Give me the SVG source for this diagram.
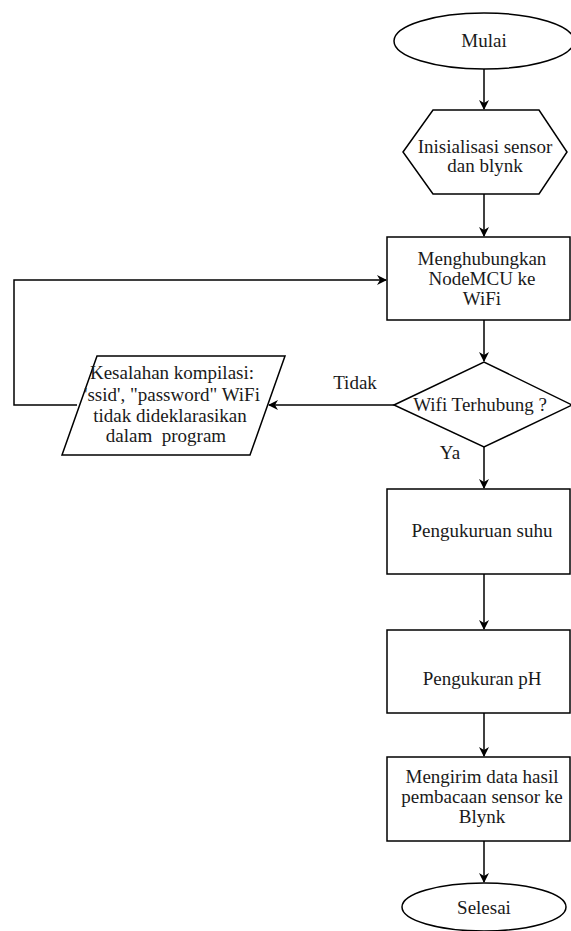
<svg xmlns="http://www.w3.org/2000/svg" width="571" height="931" viewBox="0 0 571 931">
<style>
.s{fill:#fff;stroke:#000;stroke-width:1.5}
.t{font-family:"Liberation Serif","Times New Roman",serif;font-size:19px;fill:#1a1a1a;text-anchor:middle}
.c{fill:none;stroke:#000;stroke-width:1.5}
</style>
<defs>
<marker id="a" markerWidth="10" markerHeight="10" refX="9" refY="5" orient="auto" markerUnits="userSpaceOnUse">
<path d="M0,0 L10,5 L0,10 L3,5 z" fill="#000"/>
</marker>
</defs>
<rect width="571" height="931" fill="#fff"/>
<g id="connectors">
<path class="c" d="M484,69 V109" marker-end="url(#a)"/>
<path class="c" d="M484,194 V236" marker-end="url(#a)"/>
<path class="c" d="M484,320 V361" marker-end="url(#a)"/>
<path class="c" d="M484,447 V488" marker-end="url(#a)"/>
<path class="c" d="M484,574 V629" marker-end="url(#a)"/>
<path class="c" d="M484,713 V756" marker-end="url(#a)"/>
<path class="c" d="M484,841 V882" marker-end="url(#a)"/>
<path class="c" d="M394,405 H269" marker-end="url(#a)"/>
<path class="c" d="M77,405 H14 V280 H386" marker-end="url(#a)"/>
<text class="t" x="355" y="389">Tidak</text>
<text class="t" x="450" y="459">Ya</text>
</g>
<g id="mulai">
<ellipse class="s" cx="484" cy="41" rx="90" ry="28"/>
<text class="t" x="484" y="47">Mulai</text>
</g>
<g id="inisialisasi">
<polygon class="s" points="403,152 433,110 539,110 567,152 539,194 433,194"/>
<text class="t" x="485" y="153">Inisialisasi sensor</text>
<text class="t" x="485" y="172">dan blynk</text>
</g>
<g id="menghubungkan">
<rect class="s" x="387" y="237" width="183" height="83"/>
<text class="t" x="482" y="265">Menghubungkan</text>
<text class="t" x="482" y="285">NodeMCU ke</text>
<text class="t" x="482" y="305">WiFi</text>
</g>
<g id="wifi">
<polygon class="s" points="394,405 484,362 572,405 484,447"/>
<text class="t" x="480" y="411">Wifi Terhubung ?</text>
</g>
<g id="kesalahan">
<polygon class="s" points="97,356 285,356 250,455 62,455"/>
<text class="t" x="172" y="379">Kesalahan kompilasi:</text>
<text class="t" x="172" y="401">'ssid', "password" WiFi</text>
<text class="t" x="170" y="422">tidak dideklarasikan</text>
<text class="t" x="166" y="442" xml:space="preserve">dalam  program</text>
</g>
<g id="suhu">
<rect class="s" x="387" y="489" width="183" height="85"/>
<text class="t" x="482" y="537">Pengukuruan suhu</text>
</g>
<g id="ph">
<rect class="s" x="387" y="630" width="183" height="83"/>
<text class="t" x="482" y="685">Pengukuran pH</text>
</g>
<g id="mengirim">
<rect class="s" x="387" y="757" width="183" height="84"/>
<text class="t" x="482" y="783">Mengirim data hasil</text>
<text class="t" x="482" y="803">pembacaan sensor ke</text>
<text class="t" x="482" y="823">Blynk</text>
</g>
<g id="selesai">
<ellipse class="s" cx="484" cy="907" rx="82" ry="24"/>
<text class="t" x="484" y="914">Selesai</text>
</g>
</svg>
